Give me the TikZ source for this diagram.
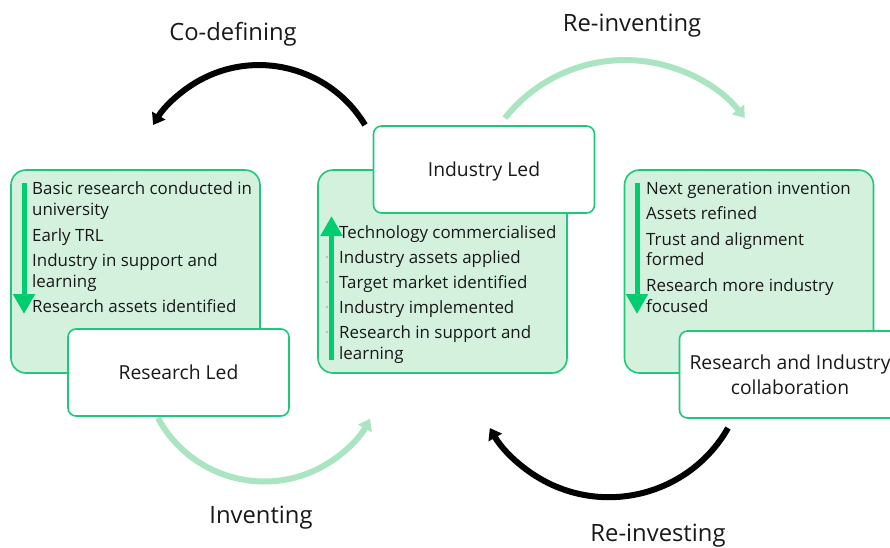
\documentclass[tikz,border=0pt]{standalone}
\usepackage{fontspec}
\setmainfont{Open Sans}
\usetikzlibrary{arrows.meta}
\definecolor{panelfill}{RGB}{212,241,222}
\definecolor{panelline}{RGB}{30,200,120}
\definecolor{flowgreen}{RGB}{0,204,112}
\definecolor{arcgreen}{RGB}{170,229,194}
\definecolor{ink}{RGB}{25,25,25}
\begin{document}
\begin{tikzpicture}[x=1pt,y=-1pt,
  panel/.style={draw=panelline, line width=1.6pt, fill=panelfill, rounded corners=15pt,
    minimum width=249pt, minimum height=203pt, inner sep=0pt},
  titlebox/.style={draw=panelline, line width=1.6pt, fill=white, rounded corners=8pt,
    minimum width=221pt, minimum height=87pt, inner sep=0pt, align=center,
    font=\fontsize{19.3}{25}\selectfont, text=ink},
  item/.style={anchor=base west, inner sep=0pt, font=\fontsize{16.9}{21}\selectfont, text=ink},
  phase/.style={inner sep=0pt, font=\fontsize{23.8}{28}\selectfont, text=ink},
  flow/.style={draw=flowgreen, line width=5pt, -{Triangle[width=21pt,length=20pt]}},
  darkarc/.style={draw=black, line width=6pt, -{Triangle[width=15pt,length=11pt]}},
  lightarc/.style={draw=arcgreen, line width=6pt, -{Triangle[width=15pt,length=11pt]}},
  dot/.style={circle, fill=black!30, inner sep=0pt, minimum size=2.4pt}]
\useasboundingbox (0,0) rectangle (890,547);
\clip (0,0) rectangle (890,547);

% cycle arcs
\coordinate (cdS) at (365,125);
\draw[darkarc] (cdS) arc[start angle=-31, end angle=-149, radius=123.6];
\coordinate (riS) at (505,118);
\draw[lightarc] (riS) arc[start angle=-141.6, end angle=-38.4, radius=153];
\coordinate (inS) at (158,418);
\draw[lightarc] (inS) arc[start angle=151.7, end angle=28.7, radius=120.7];
\coordinate (rvS) at (728,428);
\draw[darkarc] (rvS) arc[start angle=29.7, end angle=150.3, radius=137.1];

% phase labels
\node[phase] (codef) at (233,34) {Co-defining};
\node[phase] (reinv) at (632,26) {Re-inventing};
\node[phase] (inv) at (261,518) {Inventing};
\node[phase] (reinvest) at (658,536) {Re-investing};

% panels
\node[panel] (pL) at (135.5,271.5) {};
\node[panel] (pM) at (442.5,271.5) {};
\node[panel] (pR) at (749,271.5) {};

% left panel list
\node[item] (l1) at (32,194) {Basic research conducted in};
\node[item] (l1b) at (32,215) {university};
\node[item] (l2) at (32,241) {Early TRL};
\node[item] (l3) at (32,266) {Industry in support and};
\node[item] (l3b) at (32,287) {learning};
\node[item] (l4) at (32,312) {Research assets identified};
\coordinate (fLs) at (24,183);
\coordinate (fLe) at (24,314);
\draw[flow] (fLs) -- (fLe);

% middle panel list
\foreach \yy in {257,282,307,332} \node[dot] at (327,\yy) {};
\node[item] (m1) at (339,238) {Technology commercialised};
\node[item] (m2) at (339,263) {Industry assets applied};
\node[item] (m3) at (339,288) {Target market identified};
\node[item] (m4) at (339,313) {Industry implemented};
\node[item] (m5) at (339,338) {Research in support and};
\node[item] (m5b) at (339,359) {learning};
\coordinate (fMs) at (331.5,360);
\coordinate (fMe) at (331.5,216);
\draw[flow] (fMs) -- (fMe);

% right panel list
\node[item] (r1) at (646,194) {Next generation invention};
\node[item] (r2) at (646,219) {Assets refined};
\node[item] (r3) at (646,245) {Trust and alignment};
\node[item] (r3b) at (646,265) {formed};
\node[item] (r4) at (646,291) {Research more industry};
\node[item] (r4b) at (646,312) {focused};
\coordinate (fRs) at (637,183);
\coordinate (fRe) at (637,314);
\draw[flow] (fRs) -- (fRe);

% stage title boxes
\node[titlebox] (tL) at (178.5,372.5) {Research Led};
\node[titlebox, text height=18pt, text depth=4pt] (tM) at (484,169.5) {Industry Led};
\node[titlebox] (tR) at (790,374.5) {Research and Industry\\collaboration};
\end{tikzpicture}
\end{document}
